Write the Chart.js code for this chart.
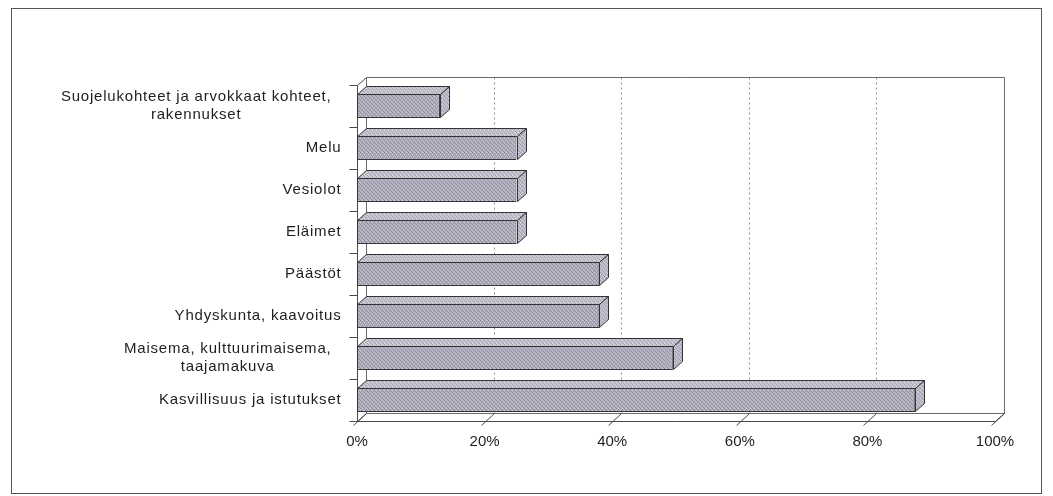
<!DOCTYPE html>
<html>
<head>
<meta charset="utf-8">
<script src="https://cdn.jsdelivr.net/npm/chart.js@4/dist/chart.umd.min.js"></script>
<style>
  html, body { margin: 0; padding: 0; background: #ffffff; }
  #wrap { width: 1053px; height: 496px; }
</style>
</head>
<body>
<div id="wrap"><canvas id="chart" width="1053" height="496"></canvas></div>
<script>
// Categories, top to bottom; multi-line names are given as arrays of lines
const categories = [
  ["Suojelukohteet ja arvokkaat kohteet,", "rakennukset"],
  "Melu",
  "Vesiolot",
  "Eläimet",
  "Päästöt",
  "Yhdyskunta, kaavoitus",
  ["Maisema, kulttuurimaisema,", "taajamakuva"],
  "Kasvillisuus ja istutukset"
];
// Share of answers (%)
const shares = [13, 25, 25, 25, 38, 38, 49.5, 87.5];
// Value axis ticks (%)
const tickValues = [0, 20, 40, 60, 80, 100];

// Perspective depth of the 3D box and bars
const DEPTH_X = 9;
const DEPTH_Y = -8;
const FONT = '15px "Liberation Sans", Arial, sans-serif';

function texture(base, dark, light) {
  const c = document.createElement('canvas');
  c.width = 4; c.height = 4;
  const g = c.getContext('2d');
  g.fillStyle = base; g.fillRect(0, 0, 4, 4);
  g.fillStyle = dark;
  g.fillRect(0, 0, 1, 1); g.fillRect(2, 1, 1, 1); g.fillRect(1, 2, 1, 1); g.fillRect(3, 3, 1, 1);
  g.fillStyle = light;
  g.fillRect(2, 0, 1, 1); g.fillRect(0, 2, 1, 1);
  return g.createPattern(c, 'repeat');
}

const ctx0 = document.getElementById('chart').getContext('2d');
const frontFill = texture('#b0b0c0', '#8a8a9a', '#cdcdd8');
const topFill = texture('#c6c6d0', '#a2a2ae', '#dcdce4');
const sideFill = texture('#bdbdcb', '#9a9aa8', '#d6d6e0');

function line(ctx, x1, y1, x2, y2) {
  ctx.beginPath(); ctx.moveTo(x1, y1); ctx.lineTo(x2, y2); ctx.stroke();
}

// Background frame, back wall, left wall, floor and gridlines
const boxPlugin = {
  id: 'box3d',
  beforeDraw(chart) {
    const ctx = chart.ctx;
    ctx.save();
    ctx.fillStyle = '#ffffff';
    ctx.fillRect(0, 0, chart.width, chart.height);
    ctx.strokeStyle = '#555555';
    ctx.lineWidth = 1;
    ctx.strokeRect(11.5, 8.5, 1030, 485);
    ctx.restore();
  },
  beforeDatasetsDraw(chart) {
    const ctx = chart.ctx;
    const a = chart.chartArea;
    const xs = chart.scales.x;
    const ys = chart.scales.y;
    const L = Math.round(a.left) + 0.5, R = Math.round(a.right) + 0.5;
    const T = Math.round(a.top) + 0.5, B = Math.round(a.bottom) + 0.5;
    ctx.save();
    ctx.lineWidth = 1;

    // dotted gridlines on the back wall
    ctx.strokeStyle = '#909090';
    ctx.setLineDash([2, 3]);
    tickValues.slice(1, -1).forEach(v => {
      const x = Math.round(xs.getPixelForValue(v)) + DEPTH_X + 0.5;
      line(ctx, x, T + DEPTH_Y, x, B + DEPTH_Y);
    });
    ctx.setLineDash([]);

    // walls and floor edges
    ctx.strokeStyle = '#6a6a6a';
    line(ctx, L + DEPTH_X, T + DEPTH_Y, R + DEPTH_X, T + DEPTH_Y);
    line(ctx, R + DEPTH_X, T + DEPTH_Y, R + DEPTH_X, B + DEPTH_Y);
    line(ctx, L + DEPTH_X, T + DEPTH_Y, L + DEPTH_X, B + DEPTH_Y);
    line(ctx, L + DEPTH_X, B + DEPTH_Y, R + DEPTH_X, B + DEPTH_Y);
    ctx.strokeStyle = '#4a4a4a';
    line(ctx, L, T, L + DEPTH_X, T + DEPTH_Y);
    line(ctx, L, T, L, B);
    line(ctx, L, B, R, B);
    line(ctx, L, B, L + DEPTH_X, B + DEPTH_Y);
    line(ctx, R, B, R + DEPTH_X, B + DEPTH_Y);

    // floor gridlines with tick marks below the front edge
    tickValues.forEach(v => {
      const x = Math.round(xs.getPixelForValue(v)) + 0.5;
      line(ctx, x - 4, B + 4, x + DEPTH_X, B + DEPTH_Y);
    });

    // category boundary ticks on the left edge
    const step = (a.bottom - a.top) / categories.length;
    for (let i = 0; i <= categories.length; i++) {
      const y = Math.round(a.top + i * step) + 0.5;
      line(ctx, L - 8, y, L, y);
    }

    // category names; wrapped names are centred line by line
    ctx.font = FONT;
    if ('letterSpacing' in ctx) ctx.letterSpacing = '0.8px';
    ctx.fillStyle = '#1e1e1e';
    ctx.textAlign = 'center';
    ctx.textBaseline = 'middle';
    const lh = 18;
    categories.forEach((lbl, i) => {
      const lines = Array.isArray(lbl) ? lbl : [lbl];
      const rightEdge = lines.length > 1 ? L - 26 : L - 16;
      const w = Math.max(...lines.map(s => ctx.measureText(s).width));
      const cx = rightEdge - w / 2;
      const cy = ys.getPixelForValue(i);
      lines.forEach((s, k) => {
        ctx.fillText(s, cx, cy + (k - (lines.length - 1) / 2) * lh);
      });
    });
    ctx.restore();
  },
  afterDatasetsDraw(chart) {
    const ctx = chart.ctx;
    const meta = chart.getDatasetMeta(0);
    ctx.save();
    ctx.lineWidth = 1;
    ctx.strokeStyle = '#333338';
    meta.data.forEach(el => {
      const p = el.getProps(['x', 'y', 'base', 'height'], true);
      const x0 = Math.round(p.base) + 0.5, x1 = Math.round(p.x) + 0.5;
      const t = Math.round(p.y - p.height / 2) + 0.5, b = Math.round(p.y + p.height / 2) - 0.5;
      // top face
      ctx.beginPath();
      ctx.moveTo(x0, t); ctx.lineTo(x1, t);
      ctx.lineTo(x1 + DEPTH_X, t + DEPTH_Y); ctx.lineTo(x0 + DEPTH_X, t + DEPTH_Y);
      ctx.closePath();
      ctx.fillStyle = topFill; ctx.fill(); ctx.stroke();
      // side face
      ctx.beginPath();
      ctx.moveTo(x1, t); ctx.lineTo(x1 + DEPTH_X, t + DEPTH_Y);
      ctx.lineTo(x1 + DEPTH_X, b + DEPTH_Y); ctx.lineTo(x1, b);
      ctx.closePath();
      ctx.fillStyle = sideFill; ctx.fill(); ctx.stroke();
    });
    ctx.restore();
  }
};

new Chart(ctx0, {
  type: 'bar',
  data: {
    labels: categories,
    datasets: [{
      data: shares,
      backgroundColor: frontFill,
      borderColor: '#333338',
      borderWidth: 1,
      borderSkipped: false,
      barPercentage: 0.57,
      categoryPercentage: 1
    }]
  },
  options: {
    indexAxis: 'y',
    responsive: false,
    animation: false,
    events: [],
    layout: { padding: { left: 357, right: 58, top: 85, bottom: 0 } },
    plugins: { legend: { display: false }, tooltip: { enabled: false } },
    scales: {
      y: { display: false },
      x: {
        min: 0, max: 100,
        afterBuildTicks(scale) { scale.ticks = tickValues.map(v => ({ value: v })); },
        afterFit(scale) { scale.height = 75; },
        grid: { display: false, drawTicks: false },
        border: { display: false },
        ticks: {
          padding: 12,
          maxRotation: 0,
          autoSkip: false,
          color: '#1e1e1e',
          font: { family: '"Liberation Sans", Arial, sans-serif', size: 15 },
          callback: v => v + '%'
        }
      }
    }
  },
  plugins: [boxPlugin]
});
</script>
</body>
</html>
